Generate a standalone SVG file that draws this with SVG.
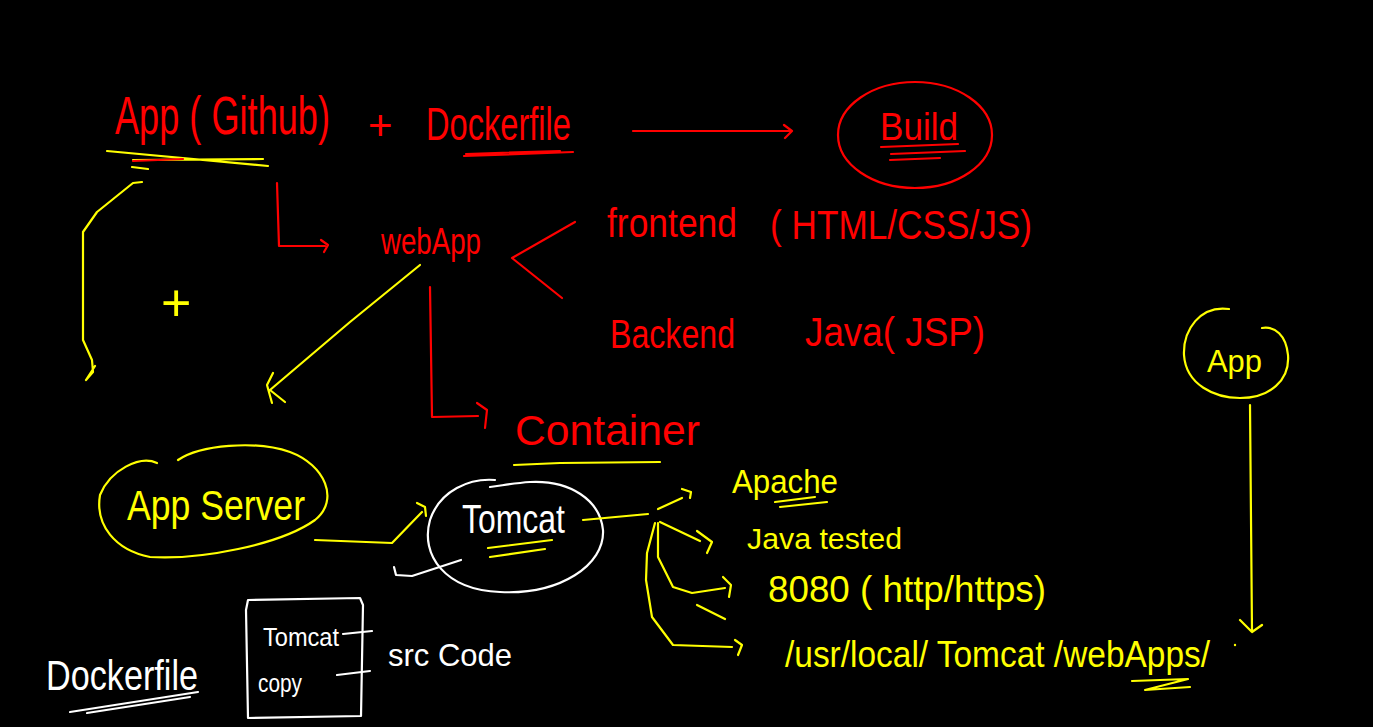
<svg xmlns="http://www.w3.org/2000/svg" width="1373" height="727" viewBox="0 0 1373 727">
<style>
.r{fill:#ff0000}
.y{fill:#ffff00}
.w{fill:#ffffff}
text{font-family:"Liberation Sans",Arial,sans-serif}
.sr{fill:none;stroke:#ff0000;stroke-width:2.2;stroke-linecap:round;stroke-linejoin:round}
.sy{fill:none;stroke:#ffff00;stroke-width:2.2;stroke-linecap:round;stroke-linejoin:round}
.sw{fill:none;stroke:#ffffff;stroke-width:2.2;stroke-linecap:round;stroke-linejoin:round}
</style>
<rect x="0" y="0" width="1373" height="727" fill="#000000"/>

<g id="app-github">
<text class="r" transform="translate(115,134) scale(1,1.35)" x="0" y="0" font-size="40" textLength="215" lengthAdjust="spacingAndGlyphs">App ( Github)</text>
<path class="sy" d="M107,151 L268,166 M133,160 L263,159 M132,167 L148,169"/>
<path class="sr" d="M133,161 L183,159"/>
</g>

<g id="plus-top">
<text class="r" x="368" y="140" font-size="42">+</text>
</g>

<g id="dockerfile-top">
<text class="r" x="426" y="140" font-size="46" textLength="145" lengthAdjust="spacingAndGlyphs">Dockerfile</text>
<path class="sr" d="M464,156 L573,152 M466,154 L560,151"/>
</g>

<g id="build">
<ellipse class="sr" cx="915" cy="135" rx="77" ry="53"/>
<text class="r" x="880" y="140" font-size="38" textLength="78" lengthAdjust="spacingAndGlyphs">Build</text>
<path class="sr" d="M881,147 L958,144 M891,154 L965,151 M890,160 L940,158"/>
</g>

<g id="webapp">
<text class="r" x="381" y="254" font-size="37" textLength="100" lengthAdjust="spacingAndGlyphs">webApp</text>
</g>

<g id="frontend">
<text class="r" x="607" y="237" font-size="40" textLength="130" lengthAdjust="spacingAndGlyphs">frontend</text>
<text class="r" x="770" y="239" font-size="40" textLength="262" lengthAdjust="spacingAndGlyphs">( HTML/CSS/JS)</text>
</g>

<g id="backend">
<text class="r" x="610" y="348" font-size="40" textLength="125" lengthAdjust="spacingAndGlyphs">Backend</text>
<text class="r" x="805" y="346" font-size="40" textLength="180" lengthAdjust="spacingAndGlyphs">Java( JSP)</text>
</g>

<g id="container">
<text class="r" x="515" y="445" font-size="42" textLength="185" lengthAdjust="spacingAndGlyphs">Container</text>
<path class="sy" d="M514,465 L560,463 L660,462"/>
</g>

<g id="plus-left">
<text class="y" x="161" y="321" font-size="52">+</text>
</g>

<g id="app-server">
<path class="sy" d="M157,463 C140,455 110,470 100,495 C95,525 115,550 150,557 C200,560 280,545 315,520 C340,500 325,465 290,452 C255,440 200,445 178,460"/>
<text class="y" x="127" y="520" font-size="42" textLength="178" lengthAdjust="spacingAndGlyphs">App Server</text>
</g>

<g id="tomcat">
<path class="sw" d="M495,480 C470,478 440,490 430,520 C420,555 445,590 500,592 C560,595 605,565 603,530 C600,500 570,480 530,482 C515,483 505,485 490,487"/>
<text class="w" x="462" y="533" font-size="40" textLength="103" lengthAdjust="spacingAndGlyphs">Tomcat</text>
<path class="sy" d="M488,548 L552,540 M490,557 L545,549"/>
</g>

<g id="apache">
<text class="y" x="732" y="493" font-size="34" textLength="106" lengthAdjust="spacingAndGlyphs">Apache</text>
<path class="sy" d="M775,502 L815,497 M780,507 L827,502"/>
</g>

<g id="java-tested">
<text class="y" x="747" y="549" font-size="30" textLength="155" lengthAdjust="spacingAndGlyphs">Java tested</text>
</g>

<g id="port">
<text class="y" x="768" y="602" font-size="36" textLength="278" lengthAdjust="spacingAndGlyphs">8080 ( http/https)</text>
</g>

<g id="path">
<text class="y" x="785" y="667" font-size="36" textLength="425" lengthAdjust="spacingAndGlyphs">/usr/local/ Tomcat /webApps/</text>
<path class="sy" d="M1132,681 L1188,679 L1145,690 L1190,687"/>
</g>

<g id="app-right">
<path class="sy" d="M1229,309 C1200,305 1183,330 1184,355 C1186,385 1215,398 1240,398 C1270,398 1290,380 1288,355 C1286,335 1275,326 1262,328"/>
<text class="y" x="1207" y="372" font-size="32" textLength="55" lengthAdjust="spacingAndGlyphs">App</text>
</g>

<g id="dockerfile-bottom">
<text class="w" x="46" y="690" font-size="42" textLength="152" lengthAdjust="spacingAndGlyphs">Dockerfile</text>
<path class="sw" d="M70,712 L198,692 M87,713 L190,697"/>
</g>

<g id="dockerfile-box">
<path class="sw" d="M248,600 L360,598 L363,605 L361,716 L248,718 L246,610 Z"/>
<text class="w" x="263" y="646" font-size="26" textLength="76" lengthAdjust="spacingAndGlyphs">Tomcat</text>
<text class="w" x="258" y="692" font-size="26" textLength="44" lengthAdjust="spacingAndGlyphs">copy</text>
<path class="sw" d="M343,634 L372,631 M337,675 L370,671"/>
<text class="w" x="388" y="666" font-size="32" textLength="124" lengthAdjust="spacingAndGlyphs">src Code</text>
</g>

<g id="connectors">
<path class="sr" d="M633,131 L790,131 M784,125 L792,131 L785,138"/>
<path class="sr" d="M277,183 L279,246 L325,246 M321,240 L328,245 L324,252"/>
<path class="sr" d="M575,222 L512,258 L562,298"/>
<path class="sr" d="M430,287 L432,417 L478,416 M477,403 L487,410 L485,428"/>
<path class="sy" d="M420,265 L350,322 L270,390 M273,373 L267,385 L272,403 M270,390 L285,402"/>
<path class="sy" d="M142,182 L133,183 L97,212 L83,232 L83,340 L92,360 L93,372 L86,380 M95,366 L86,380"/>
<path class="sy" d="M315,540 L392,543 L422,512 M417,503 L425,507 L426,516"/>
<path class="sw" d="M394,567 L396,575 L412,576 L461,560"/>
<path class="sy" d="M583,520 L648,514 M658,509 L682,498 M682,489 L691,492 L690,498"/>
<path class="sy" d="M660,522 L700,541 M697,531 L712,542 L707,553"/>
<path class="sy" d="M658,523 L658,557 L673,587 L692,593 L725,588 M723,577 L731,585 L729,597"/>
<path class="sy" d="M697,605 L725,619"/>
<path class="sy" d="M655,523 L647,553 L646,580 L652,617 L673,645 L732,647 M735,640 L742,645 L738,655"/>
<path class="sy" d="M1250,405 L1252,632 M1240,620 L1252,632 L1262,625"/>
<circle cx="1235" cy="645" r="1.2" class="y"/>
</g>
</svg>
